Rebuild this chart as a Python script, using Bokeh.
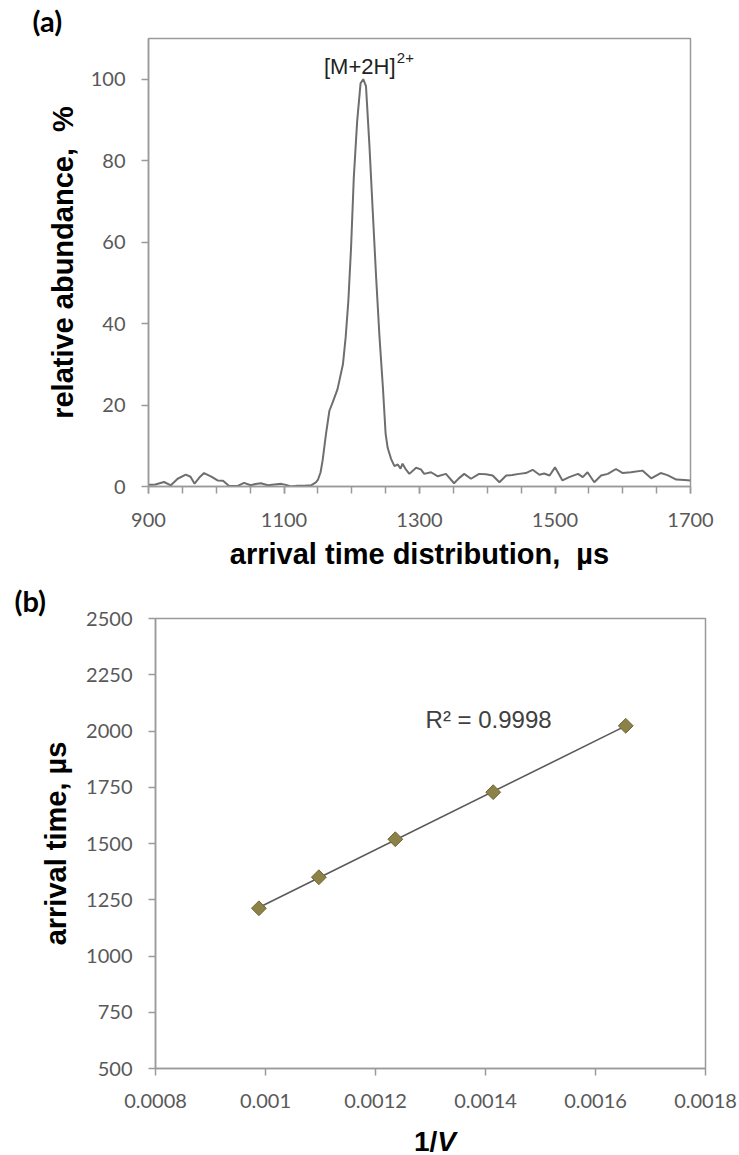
import numpy as np
from bokeh.plotting import figure
from bokeh.layouts import column, row
from bokeh.models import (Label, FixedTicker, CustomJSTickFormatter, Range1d,
                          Title, Div, Spacer)
from bokeh.embed import file_html
from bokeh.resources import INLINE

# ---- panel (a): arrival time distribution of the [M+2H]2+ ion ----
atd_time = [900, 910, 923, 933, 943, 955, 962, 968, 975, 982, 992, 1002, 1010,
            1019, 1031, 1041, 1051, 1058, 1066, 1076, 1086, 1096, 1103, 1110,
            1120, 1130, 1140, 1147, 1150, 1154, 1157, 1162, 1167, 1172, 1179,
            1187, 1191, 1195, 1199, 1203, 1208, 1213, 1217, 1221, 1226, 1231,
            1236, 1241, 1246, 1250, 1253, 1258, 1263, 1268, 1272, 1275, 1279,
            1285, 1295, 1302, 1307, 1317, 1327, 1339, 1351, 1358, 1366, 1376,
            1388, 1398, 1408, 1418, 1428, 1437, 1447, 1457, 1467, 1477, 1484,
            1492, 1500, 1511, 1521, 1534, 1541, 1548, 1558, 1568, 1578, 1590,
            1600, 1612, 1629, 1642, 1656, 1666, 1679, 1691, 1700]
atd_abund = [0.4, 0.5, 1.1, 0.3, 1.9, 2.9, 2.4, 0.7, 2.2, 3.3, 2.5, 1.5, 1.4,
             0.1, 0.1, 0.9, 0.3, 0.6, 0.8, 0.3, 0.5, 0.65, 0.4, 0.0,
             0.2, 0.2, 0.3, 1.0, 1.6, 3.5, 6.4, 12.9, 18.6, 20.7, 23.9,
             30.0, 36.6, 45.6, 58.7, 75.8, 89.7, 99.0, 100.0, 98.3, 84.0, 67.6,
             51.3, 36.6, 24.3, 12.9, 9.5, 6.8, 5.0, 5.4, 4.4, 5.6, 4.4,
             3.1, 4.6, 4.2, 3.1, 3.5, 2.5, 3.1, 0.8, 2.0, 3.1, 1.9,
             3.1, 3.0, 2.7, 1.05, 2.7, 2.8, 3.1, 3.3, 4.1, 2.9, 3.2,
             2.7, 4.7, 1.5, 2.3, 3.1, 2.3, 3.5, 1.05, 2.7, 3.1, 4.3,
             3.3, 3.5, 3.9, 2.0, 3.3, 2.8, 1.7, 1.6, 1.5]
atd_major_ticks = [900, 1100, 1300, 1500, 1700]
atd_minor_ticks = list(range(900, 1701, 50))
abund_ticks = [0, 20, 40, 60, 80, 100]

# ---- panel (b): arrival time versus inverse drift voltage ----
inv_voltage = [0.000988, 0.001097, 0.001236, 0.001414, 0.001655]
arrival_time = [1212, 1350, 1519, 1728, 2023]
r_squared = 0.9998
inv_v_ticks = [0.0008, 0.001, 0.0012, 0.0014, 0.0016, 0.0018]
arrival_ticks = [500, 750, 1000, 1250, 1500, 1750, 2000, 2250, 2500]

TICK_FONT = "Lato"
TITLE_FONT = "Liberation Sans"
AXIS_GREY = "#9a9a9a"
TICK_TEXT = "#595959"


def style_axes(p):
    p.grid.visible = False
    p.outline_line_color = AXIS_GREY
    p.outline_line_width = 1.5
    p.background_fill_color = "white"
    p.border_fill_color = "white"
    for ax in (p.xaxis[0], p.yaxis[0]):
        ax.axis_line_color = AXIS_GREY
        ax.axis_line_width = 1.5
        ax.major_tick_line_color = AXIS_GREY
        ax.minor_tick_line_color = AXIS_GREY
        ax.major_tick_line_width = 1.5
        ax.minor_tick_line_width = 1.5
        ax.major_tick_in = 0
        ax.major_tick_out = 7
        ax.minor_tick_in = 0
        ax.minor_tick_out = 0
        ax.major_label_text_font = TICK_FONT
        ax.major_label_text_font_size = "20px"
        ax.major_label_text_color = TICK_TEXT
        ax.axis_label_text_font = TITLE_FONT
        ax.axis_label_text_font_style = "bold"
        ax.axis_label_text_font_size = "29px"
        ax.axis_label_text_color = "black"


def panel_tag(text, offset):
    return Title(text=text, align="left", offset=offset, standoff=0,
                 vertical_align="middle", text_font=TICK_FONT,
                 text_font_style="bold", text_font_size="29px",
                 text_color="black")


# panel (a); the "(a)" title band sets the frame top at 38 px
A_LEFT, A_TOP, A_W, A_H = 148, 38, 542, 448
pa = figure(frame_width=A_W, frame_height=A_H,
            x_range=Range1d(900, 1700), y_range=Range1d(0, 110),
            min_border_left=A_LEFT, min_border_right=739 - A_LEFT - A_W,
            min_border_top=A_TOP, min_border_bottom=580 - A_TOP - A_H,
            output_backend="svg", toolbar_location=None,
            title=panel_tag("(a)", 32 - A_LEFT))
style_axes(pa)
pa.line(atd_time, atd_abund, line_color="#6e6e6e", line_width=2)

pa.xaxis.ticker = FixedTicker(ticks=atd_major_ticks, minor_ticks=atd_minor_ticks)
pa.xaxis.minor_tick_out = 7
pa.yaxis.ticker = FixedTicker(ticks=abund_ticks, minor_ticks=[])
pa.xaxis.major_label_standoff = 19
pa.yaxis.major_label_standoff = 16
pa.xaxis.axis_label = "arrival time distribution,\u00a0 \u00b5s"
pa.yaxis.axis_label = "relative abundance,\u00a0 %"
pa.xaxis.axis_label_standoff = 8
pa.yaxis.axis_label_standoff = 9

pa.add_layout(Label(x=1159, y=103.1, text="[M+2H]", text_font=TITLE_FONT,
                    text_font_size="22px", text_color="#222222",
                    text_baseline="alphabetic", text_align="left"))
pa.add_layout(Label(x=1266.5, y=105.2, text="2+", text_font=TITLE_FONT,
                    text_font_size="15px", text_color="#222222",
                    text_baseline="alphabetic", text_align="left"))

# panel (b)
B_LEFT, B_TOP, B_W, B_H, B_BOTTOM = 148, 38, 550, 450, 52
B_SHIFT = 7
pb = figure(frame_width=B_W, frame_height=B_H,
            x_range=Range1d(0.0008, 0.0018), y_range=Range1d(500, 2500),
            min_border_left=B_LEFT, min_border_right=739 - B_SHIFT - B_LEFT - B_W,
            min_border_top=B_TOP, min_border_bottom=B_BOTTOM,
            output_backend="svg", toolbar_location=None,
            title=panel_tag("(b)", 14 - B_SHIFT - B_LEFT))
style_axes(pb)

slope, intercept = np.polyfit(inv_voltage, arrival_time, 1)
fit_x = np.array([min(inv_voltage), max(inv_voltage)])
pb.line(fit_x, slope * fit_x + intercept, line_color="#5a5a5a", line_width=1.6)
pb.scatter(inv_voltage, arrival_time, marker="square", angle=np.pi / 4, size=10.5,
           fill_color="#8c8248", line_color="#6e6636", line_width=1)

pb.xaxis.ticker = FixedTicker(ticks=inv_v_ticks, minor_ticks=[])
pb.yaxis.ticker = FixedTicker(ticks=arrival_ticks, minor_ticks=[])
pb.xaxis.formatter = CustomJSTickFormatter(code="return String(parseFloat(tick.toFixed(4)));")
pb.xaxis.major_label_standoff = 18
pb.yaxis.major_label_standoff = 16
pb.yaxis.axis_label = "arrival time, \u00b5s"
pb.yaxis.axis_label_standoff = 11

pb.add_layout(Label(x=0.001291, y=2053, text=f"R\u00b2 = {r_squared}",
                    text_font=TITLE_FONT, text_font_size="24px",
                    text_color="#404040", text_baseline="alphabetic",
                    text_align="left"))

# x-axis title of panel (b): upright "1/" followed by an italic "V"
inv_v_title = Div(
    text=("<div style=\"width:%dpx;margin-left:%dpx;text-align:center;"
          "font-family:'Liberation Sans';font-weight:bold;font-size:28px;"
          "line-height:30px;padding-top:2px;color:black\">1/<i>V</i></div>")
    % (B_W, B_SHIFT + B_LEFT),
    width=739, height=35)

layout = column(pa, row(Spacer(width=B_SHIFT), pb), inv_v_title, spacing=0)
open("out.html", "w").write(file_html(layout, INLINE))
